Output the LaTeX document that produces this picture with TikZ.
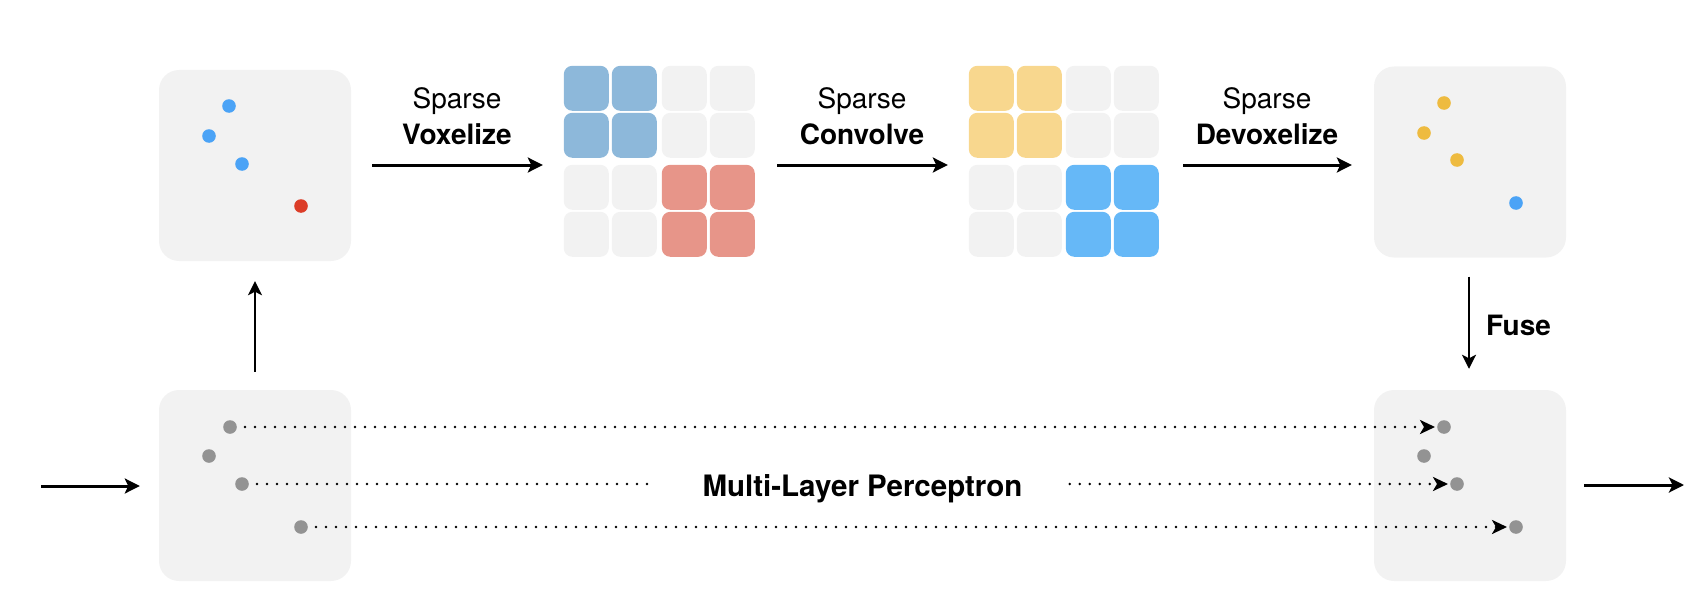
\documentclass[tikz,border=0pt]{standalone}
\usepackage{fontspec}
\setmainfont{TeX Gyre Heros}
\usetikzlibrary{arrows.meta,calc}
\definecolor{boxbg}{HTML}{F2F2F2}
\definecolor{cgray}{HTML}{F2F2F2}
\definecolor{cblue}{HTML}{8DB8DA}
\definecolor{cred}{HTML}{E79589}
\definecolor{cyellow}{HTML}{F8D78E}
\definecolor{cbright}{HTML}{66B8F7}
\definecolor{dblue}{HTML}{4BA3F6}
\definecolor{dred}{HTML}{DC3D28}
\definecolor{dyellow}{HTML}{EEBB40}
\definecolor{dgray}{HTML}{939393}
\begin{document}
\begin{tikzpicture}[x=1pt,y=-1pt,
  panel/.style={fill=boxbg, rounded corners=20pt, minimum width=192pt, minimum height=191pt, inner sep=0pt},
  gridbox/.style={minimum width=191pt, minimum height=192pt, inner sep=0pt},
  pt/.style={circle, inner sep=0pt, minimum size=13.6pt},
  arr/.style={line width=3pt, -{Stealth[length=15pt,width=15pt,inset=3.5pt]}},
  arrv/.style={line width=2.4pt, -{Stealth[length=14pt,width=14pt,inset=3.5pt]}},
  mlpline/.style={line width=2.8pt, dash pattern=on 0pt off 10pt, line cap=round},
  mlparr/.style={mlpline, -{Stealth[length=15pt,width=14pt,inset=4pt]}},
  lbl/.style={font=\fontsize{28}{34}\selectfont, inner sep=0pt},
  lblb/.style={font=\fontsize{28}{34}\selectfont\bfseries, inner sep=0pt},
]
\useasboundingbox (0,0) rectangle (1706,610);

% panels
\node[panel] (b1) at (255,165.5) {};
\node[panel] (b2) at (1470,162) {};
\node[panel] (b3) at (255,485.5) {};
\node[panel] (b4) at (1470,485.5) {};

% grids
\node[gridbox] (g1) at (659.5,162) {};
\node[gridbox] (g2) at (1064.5,162) {};
\foreach \bx/\by/\col in {0/0/cblue, 98/0/cgray, 0/99/cgray, 98/99/cred}
  \foreach \dx in {0,48}
    \foreach \dy in {0,47}
      \fill[\col, rounded corners=8.5pt] ($(g1.north west)+(\bx+\dx,\by+\dy)$) rectangle +(45,45);
\foreach \bx/\by/\col in {0/0/cyellow, 97/0/cgray, 0/99/cgray, 97/99/cbright}
  \foreach \dx in {0,48}
    \foreach \dy in {0,47}
      \fill[\col, rounded corners=8.5pt] ($(g2.north west)+(\bx+\dx,\by+\dy)$) rectangle +(45,45);

% points
\node[pt, fill=dblue] (p1) at (229,106) {};
\node[pt, fill=dblue] (p2) at (209,136) {};
\node[pt, fill=dblue] (p3) at (242,164) {};
\node[pt, fill=dred]  (p4) at (301,206) {};

\node[pt, fill=dyellow] (q1) at (1444,103) {};
\node[pt, fill=dyellow] (q2) at (1424,133) {};
\node[pt, fill=dyellow] (q3) at (1457,160) {};
\node[pt, fill=dblue]   (q4) at (1516,203) {};

\node[pt, fill=dgray] (l1) at (230,427) {};
\node[pt, fill=dgray] (l2) at (209,456) {};
\node[pt, fill=dgray] (l3) at (242,484) {};
\node[pt, fill=dgray] (l4) at (301,527) {};

\node[pt, fill=dgray] (r1) at (1444,427) {};
\node[pt, fill=dgray] (r2) at (1424,456) {};
\node[pt, fill=dgray] (r3) at (1457,484) {};
\node[pt, fill=dgray] (r4) at (1516,527) {};

% labels
\node[lbl, anchor=base]  (s1) at (457,108) {Sparse};
\node[lblb, anchor=base] (t1) at (457,144) {Voxelize};
\node[lbl, anchor=base]  (s2) at (862,108) {Sparse};
\node[lblb, anchor=base] (t2) at (862,144) {Convolve};
\node[lbl, anchor=base]  (s3) at (1267,108) {Sparse};
\node[lblb, anchor=base] (t3) at (1267,144) {Devoxelize};
\node[lblb, anchor=base west] (fuse) at (1486,335) {Fuse};
\node[font=\fontsize{29.5}{35}\selectfont\bfseries, inner sep=0pt, anchor=base] (mlp) at (862.5,496) {Multi-Layer Perceptron};

% main arrows
\draw[arr, shorten <=21pt, shorten >=21pt] (b1.east |- 0,165) -- (g1.west |- 0,165);
\draw[arr, shorten <=22pt, shorten >=21pt] (g1.east |- 0,165) -- (g2.west |- 0,165);
\draw[arr, shorten <=23pt, shorten >=22pt] (g2.east |- 0,165) -- (b2.west |- 0,165);
\draw[arrv, shorten <=18pt, shorten >=20pt] (b3.north) -- (b1.south);
\draw[arrv, shorten <=19pt, shorten >=21pt] (b2.south -| 1469,0) -- (b4.north -| 1469,0);

\coordinate (in0) at (41,486);
\coordinate (out0) at (1684,485);
\draw[arr, shorten >=19pt] (in0) -- (b3.west |- in0);
\draw[arr, shorten <=18pt] (b4.east |- out0) -- (out0);

% MLP dotted connectors
\draw[mlparr, shorten <=8pt, shorten >=2pt] (l1) -- (r1);
\draw[mlpline, shorten <=8pt, shorten >=47pt] (l3) -- (l3 -| mlp.west);
\draw[mlparr, shorten <=47pt, shorten >=2pt] (r3 -| mlp.east) -- (r3);
\draw[mlparr, shorten <=8pt, shorten >=2pt] (l4) -- (r4);
\end{tikzpicture}
\end{document}
